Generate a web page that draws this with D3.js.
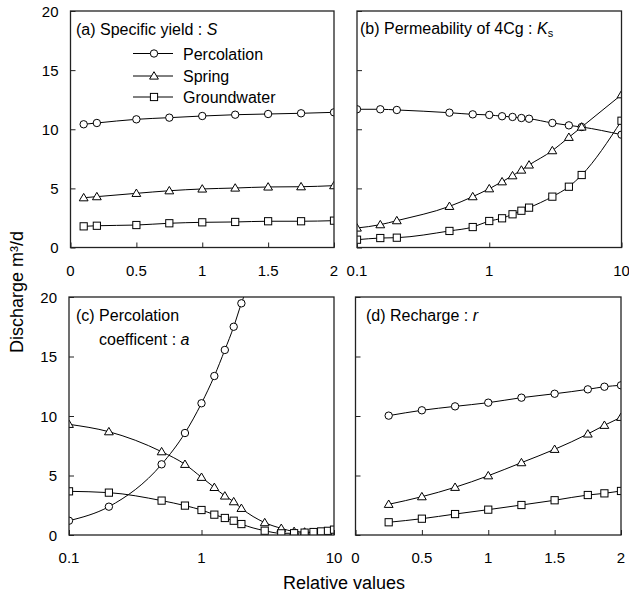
<!DOCTYPE html>
<html>
<head>
<meta charset="utf-8">
<script src="https://cdn.jsdelivr.net/npm/d3@7"></script>
<style>
  html, body { margin: 0; padding: 0; background: #fff; }
  svg { display: block; font-family: "Liberation Sans", Arial, sans-serif; }
</style>
</head>
<body>
<svg id="chart" width="629" height="597"></svg>
<script>
// Discharge sensitivity to four model parameters
const seriesNames = ["Percolation", "Spring", "Groundwater"];
const yTicks = [0, 5, 10, 15, 20];
const linTicks = [0, 0.5, 1, 1.5, 2];
const linTickLabels = ["0", "0.5", "1", "1.5", "2"];
const logTicks = [0.1, 1, 10];
const logTickLabels = ["0.1", "1", "10"];

// (a) Specific yield
const xA = [0.1, 0.2, 0.5, 0.75, 1, 1.25, 1.5, 1.75, 2];
const percA = [10.42, 10.53, 10.84, 10.98, 11.12, 11.23, 11.29, 11.35, 11.43];
const springA = [4.21, 4.30, 4.58, 4.80, 4.95, 5.03, 5.12, 5.14, 5.23];
const gwA = [1.79, 1.84, 1.90, 2.05, 2.13, 2.16, 2.22, 2.22, 2.27];

// (b) Permeability of 4Cg
const xB = [0.1, 0.15, 0.2, 0.5, 0.75, 1, 1.25, 1.5, 1.75, 2, 3, 4, 5, 10];
const percB = [11.69, 11.69, 11.63, 11.40, 11.26, 11.21, 11.10, 11.04, 10.95, 10.89, 10.53, 10.33, 10.19, 9.54];
const springB = [1.65, 1.93, 2.27, 3.48, 4.30, 4.97, 5.56, 6.07, 6.55, 6.98, 8.19, 9.32, 10.19, 12.92];
const gwB = [0.66, 0.80, 0.83, 1.40, 1.73, 2.24, 2.47, 2.81, 3.11, 3.37, 4.30, 5.14, 6.13, 10.72];

// (c) Percolation coefficient
const xCperc = [0.1, 0.2, 0.5, 0.75, 1, 1.25, 1.5, 1.75, 2, 3];
const percC = [1.20, 2.38, 5.94, 8.57, 11.07, 13.36, 15.55, 17.5, 19.47, 24.0];
const xC = [0.1, 0.2, 0.5, 0.75, 1, 1.25, 1.5, 1.75, 2, 3, 4, 5, 6, 7, 8, 9, 10];
const springC = [9.30, 8.68, 7.0, 5.94, 4.85, 4.0, 3.28, 2.80, 2.24, 1.04, 0.56, 0.30, 0.25, 0.20, 0.18, 0.15, 0.12];
const gwC = [3.67, 3.56, 2.89, 2.47, 2.10, 1.71, 1.43, 1.20, 0.92, 0.36, 0.14, 0.15, 0.20, 0.25, 0.30, 0.35, 0.45];

// (d) Recharge
const xD = [0.25, 0.5, 0.75, 1, 1.25, 1.5, 1.75, 1.875, 2];
const percD = [10.03, 10.48, 10.81, 11.12, 11.54, 11.87, 12.24, 12.46, 12.58];
const springD = [2.58, 3.22, 4.01, 4.98, 6.08, 7.20, 8.49, 9.22, 9.89];
const gwD = [1.07, 1.37, 1.76, 2.13, 2.52, 2.92, 3.36, 3.50, 3.70];

const svg = d3.select("#chart");

const panels = [
  { id: "a", box: [70.5, 11, 334, 247.5], type: "lin", yLabels: true,
    series: [[xA, percA], [xA, springA], [xA, gwA]] },
  { id: "b", box: [357, 11, 621.5, 247.5], type: "log", yLabels: false,
    series: [[xB, percB], [xB, springB], [xB, gwB]] },
  { id: "c", box: [69, 297, 334, 535], type: "log", yLabels: true,
    series: [[xCperc, percC], [xC, springC], [xC, gwC]] },
  { id: "d", box: [355.5, 297, 621, 535], type: "lin", yLabels: false,
    series: [[xD, percD], [xD, springD], [xD, gwD]] }
];

function drawMarker(g, kind, x, y) {
  if (kind === 0) {
    g.append("circle").attr("cx", x).attr("cy", y).attr("r", 3.7)
      .attr("fill", "#fff").attr("stroke", "#000").attr("stroke-width", 1);
  } else if (kind === 1) {
    g.append("path")
      .attr("d", `M${x},${y - 4.3}L${x + 4.4},${y + 3.1}L${x - 4.4},${y + 3.1}Z`)
      .attr("fill", "#fff").attr("stroke", "#000").attr("stroke-width", 1);
  } else {
    g.append("rect").attr("x", x - 3.6).attr("y", y - 3.6).attr("width", 7.2).attr("height", 7.2)
      .attr("fill", "#fff").attr("stroke", "#000").attr("stroke-width", 1);
  }
}

panels.forEach(p => {
  const [x0, y0, x1, y1] = p.box;
  const x = p.type === "lin"
    ? d3.scaleLinear().domain([0, 2]).range([x0, x1])
    : d3.scaleLog().domain([0.1, 10]).range([x0, x1]);
  const y = d3.scaleLinear().domain([0, 20]).range([y1, y0]);
  const ticks = p.type === "lin" ? linTicks : logTicks;
  const tickLabels = p.type === "lin" ? linTickLabels : logTickLabels;

  const g = svg.append("g");

  // clip marks to plotting area
  const clipId = "clip-" + p.id;
  svg.append("clipPath").attr("id", clipId)
    .append("rect").attr("x", x0).attr("y", y0).attr("width", x1 - x0).attr("height", y1 - y0);

  // inward ticks (y on left side, x on bottom)
  const yAxis = d3.axisLeft(y).tickValues(yTicks).tickSize(-5).tickFormat("");
  const yg = g.append("g").attr("transform", `translate(${x0},0)`).call(yAxis);
  yg.select(".domain").remove();
  yg.selectAll(".tick line").attr("stroke", "#222").attr("stroke-width", 1);

  const xAxis = d3.axisBottom(x).tickValues(ticks).tickSize(-5).tickFormat("");
  const xg = g.append("g").attr("transform", `translate(0,${y1})`).call(xAxis);
  xg.select(".domain").remove();
  xg.selectAll(".tick line").attr("stroke", "#222").attr("stroke-width", 1);

  // tick labels
  g.selectAll(".xl").data(ticks).enter().append("text")
    .attr("x", (d) => x(d)).attr("y", y1 + 28)
    .attr("text-anchor", "middle").attr("font-size", 15).attr("fill", "#000")
    .text((d, i) => tickLabels[i]);

  if (p.yLabels) {
    g.selectAll(".yl").data(yTicks).enter().append("text")
      .attr("x", x0 - 12).attr("y", (d) => y(d) + 5.5)
      .attr("text-anchor", "end").attr("font-size", 15).attr("fill", "#000")
      .text((d) => d);
  }

  // series lines and markers
  const plot = g.append("g").attr("clip-path", `url(#${clipId})`);
  const line = d3.line().curve(d3.curveMonotoneX)
    .x((d) => x(d[0])).y((d) => y(d[1]));
  p.series.forEach(([xs, ys], k) => {
    const pts = xs.map((v, i) => [v, ys[i]]);
    plot.append("path").attr("d", line(pts))
      .attr("fill", "none").attr("stroke", "#000").attr("stroke-width", 1);
  });
  p.series.forEach(([xs, ys], k) => {
    xs.forEach((v, i) => drawMarker(plot, k, x(v), y(ys[i])));
  });

  // frame
  g.append("rect").attr("x", x0).attr("y", y0).attr("width", x1 - x0).attr("height", y1 - y0)
    .attr("fill", "none").attr("stroke", "#222").attr("stroke-width", 1.3);
});

// panel titles
const title = svg.append("g").attr("font-size", 16).attr("fill", "#000");
const ta = title.append("text").attr("x", 76).attr("y", 35);
ta.append("tspan").text("(a) Specific yield : ");
ta.append("tspan").attr("font-style", "italic").text("S");

const tb = title.append("text").attr("x", 360).attr("y", 34);
tb.append("tspan").text("(b) Permeability of 4Cg : ");
tb.append("tspan").attr("font-style", "italic").text("K");
tb.append("tspan").attr("font-size", 11).attr("dy", 3).text("s");

const tc = title.append("text").attr("x", 76).attr("y", 321);
tc.append("tspan").text("(c) Percolation");
const tc2 = title.append("text").attr("x", 99).attr("y", 345);
tc2.append("tspan").text("coefficent : ");
tc2.append("tspan").attr("font-style", "italic").text("a");

const td = title.append("text").attr("x", 366).attr("y", 321);
td.append("tspan").text("(d) Recharge : ");
td.append("tspan").attr("font-style", "italic").text("r");

// legend in panel (a)
const legend = svg.append("g");
const legendRows = [53.5, 76, 97];
seriesNames.forEach((name, k) => {
  const ly = legendRows[k];
  legend.append("line").attr("x1", 133).attr("x2", 173).attr("y1", ly).attr("y2", ly)
    .attr("stroke", "#000").attr("stroke-width", 1);
  drawMarker(legend, k, 154, ly);
  legend.append("text").attr("x", 183).attr("y", ly + 6)
    .attr("font-size", 16).attr("fill", "#000").text(name);
});

// axis titles
svg.append("text").attr("x", 344).attr("y", 589)
  .attr("text-anchor", "middle").attr("font-size", 18).attr("fill", "#000")
  .text("Relative values");

svg.append("text")
  .attr("transform", "translate(23,292) rotate(-90)")
  .attr("text-anchor", "middle").attr("font-size", 18).attr("fill", "#000")
  .text("Discharge m³/d");
</script>
</body>
</html>
